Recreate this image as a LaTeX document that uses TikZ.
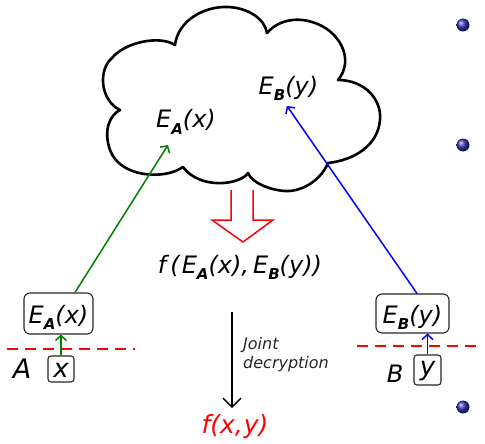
\documentclass[tikz,border=0pt]{standalone}
\usepackage{fontspec}
\setmainfont{DejaVu Sans}
\usetikzlibrary{arrows.meta,calc}

\definecolor{ballblue}{rgb}{0.2,0.2,0.7}
\definecolor{dkgreen}{rgb}{0,0.5,0}

% bold slanted subscript used for the key letters
\newcommand\keysub[1]{\raisebox{-6pt}{\fontsize{15}{15}\selectfont\bfseries\itshape #1}}
\newcommand\encA{E\keysub{A}(x)}
\newcommand\encB{E\keysub{B}(y)}

\begin{document}
\begin{tikzpicture}[x=1pt,y=-1pt,
  lbl/.style={font=\fontsize{24}{24}\selectfont\itshape, inner sep=0pt},
  keybox/.style={draw=black!85, line width=1.1pt, rounded corners=6pt,
    font=\fontsize{24}{24}\selectfont\itshape, inner xsep=3pt, anchor=base},
  valbox/.style={draw=black!85, line width=1.1pt, rounded corners=3pt,
    font=\fontsize{26}{26}\selectfont\itshape, inner xsep=1pt, anchor=base},
  tip/.style={-{Straight Barb[length=5pt,width=11pt]}},
  boundary/.style={red, line width=2pt, dash pattern=on 11pt off 7pt},
  ball/.style={shading=ball, ball color=ballblue}]

\useasboundingbox (0,0) rectangle (485,444);

% the cloud
\draw[line width=2.6pt, line join=round]
  (120,110) .. controls (100,100) and (98,70) .. (112,58)
  .. controls (125,42) and (160,35) .. (175,45)
  .. controls (178,20) and (205,6) .. (228,7)
  .. controls (250,8) and (265,20) .. (267,33)
  .. controls (280,18) and (300,18) .. (312,22)
  .. controls (340,30) and (355,60) .. (338,80)
  .. controls (365,80) and (382,100) .. (380,120)
  .. controls (378,145) and (355,160) .. (328,163)
  .. controls (320,182) and (300,192) .. (285,191)
  .. controls (270,190) and (252,183) .. (248,173)
  .. controls (240,185) and (200,190) .. (183,167)
  .. controls (165,180) and (120,178) .. (110,150)
  .. controls (103,130) and (110,115) .. cycle;

\node[lbl, anchor=base] (cA) at (186,128) {\encA};
\node[lbl, anchor=base] (cB) at (288.5,95) {\encB};

% hollow arrow leaving the cloud
\draw[red, line width=1.5pt, line join=miter]
  (231,190) -- (231,220) -- (212,220) -- (243,242) -- (273,220) -- (253,220) -- (253,190);

\node[lbl, anchor=base] (fE) at (240,273)
  {f\hspace{4pt}(\hspace{2pt}\encA,\hspace{4pt}\encB)};

% joint decryption
\coordinate (jtop) at (232,312);
\coordinate (jbot) at (232,408);
\draw[line width=1.3pt, -{Straight Barb[length=9pt,width=18pt]}] (jtop) -- (jbot);
\node[anchor=north west, inner sep=0pt, align=left, text=black!85,
  font=\fontsize{16}{19}\selectfont\itshape] (jd) at (243,337) {Joint\\decryption};
\node[lbl, anchor=base, text=red, font=\fontsize{25}{25}\selectfont\itshape] (fxy) at (235,433)
  {f(x,\hspace{1pt}y)};

% party A
\node[keybox, minimum width=69pt, text height=25pt, text depth=6pt, inner ysep=5pt] (ea) at (58.5,323) {\encA};
\node[valbox, minimum width=26pt, text height=17pt, text depth=1pt, inner ysep=4pt] (xb) at (61,377) {x};
\node[lbl, anchor=base, font=\fontsize{27}{27}\selectfont\itshape] (pa) at (22,378) {A};
\coordinate (la) at (7,349);
\coordinate (ra) at (135,349);
\draw[boundary] (la) -- (ra);
\draw[dkgreen, line width=1.5pt, tip] (xb.north) -- (xb.north |- ea.south);
\coordinate (tipA) at (168,145);
\draw[dkgreen, line width=1.5pt, tip] ($(ea.north)+(16.5,0)$) -- (tipA);

% party B
\node[keybox, minimum width=73pt, text height=24pt, text depth=5pt, inner ysep=5pt] (eb) at (412.5,323) {\encB};
\node[valbox, minimum width=27pt, text height=16pt, text depth=6pt, inner ysep=4pt] (yb) at (427.5,375) {y};
\node[lbl, anchor=base] (pb) at (395,382) {B};
\coordinate (lb) at (357,346);
\coordinate (rb) at (480,346);
\draw[boundary] (lb) -- (rb);
\draw[blue, line width=1.5pt, tip] (yb.north) -- (yb.north |- eb.south);
\coordinate (tipB) at (287,106);
\draw[blue, line width=1.5pt, tip] ($(eb.north)+(4.5,0)$) -- (tipB);

% list bullets
\shade[ball] (463,25) circle (6.5);
\shade[ball] (463,145) circle (6.5);
\shade[ball] (463,407) circle (6.5);
\end{tikzpicture}
\end{document}
